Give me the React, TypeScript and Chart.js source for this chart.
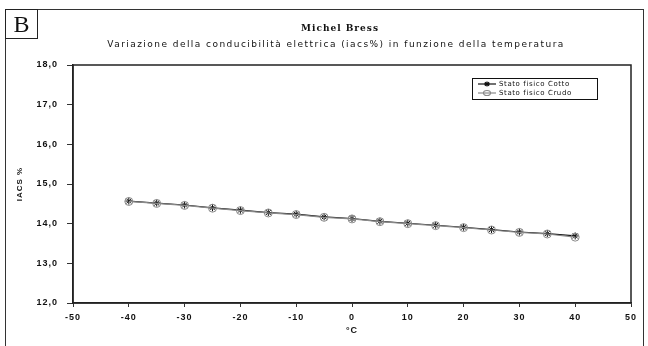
import React, { useEffect, useRef } from 'react';
import { Chart, registerables } from 'chart.js';

Chart.register(...registerables);

const temperatures = [-40, -35, -30, -25, -20, -15, -10, -5, 0, 5, 10, 15, 20, 25, 30, 35, 40];
const cottoValues = [14.57, 14.52, 14.47, 14.4, 14.34, 14.28, 14.24, 14.17, 14.13, 14.06, 14.01, 13.96, 13.91, 13.85, 13.79, 13.75, 13.69];
const crudoValues = [14.56, 14.51, 14.46, 14.39, 14.33, 14.27, 14.23, 14.16, 14.12, 14.05, 14.0, 13.95, 13.9, 13.84, 13.78, 13.74, 13.66];
const seriesNames = ['Stato fisico Cotto', 'Stato fisico Crudo'];
const titleLines = ['Michel Bress', 'Variazione della conducibilità elettrica (iacs%) in funzione della temperatura'];
const xAxisTitle = '°C';
const yAxisTitle = 'IACS %';
const panelLabel = 'B';

const COTTO_COLOR = '#111111';
const CRUDO_COLOR = '#8a8a8a';

function drawStar(ctx: CanvasRenderingContext2D, x: number, y: number, r: number) {
  ctx.beginPath();
  ctx.moveTo(x - r, y);
  ctx.lineTo(x + r, y);
  ctx.moveTo(x, y - r * 0.8);
  ctx.lineTo(x, y + r * 0.8);
  ctx.moveTo(x - r * 0.7, y - r * 0.6);
  ctx.lineTo(x + r * 0.7, y + r * 0.6);
  ctx.moveTo(x + r * 0.7, y - r * 0.6);
  ctx.lineTo(x - r * 0.7, y + r * 0.6);
  ctx.stroke();
}

const spacingPlugin = {
  id: 'spacing',
  beforeDraw(chart: any) {
    (chart.ctx as any).letterSpacing = '1px';
  },
  beforeDatasetsDraw(chart: any) {
    (chart.ctx as any).letterSpacing = '0px';
  },
};

const decorPlugin = {
  id: 'decor',
  afterDraw(chart: any) {
    const ctx: CanvasRenderingContext2D = chart.ctx;
    const a = chart.chartArea;
    ctx.save();
    // frame around plot area
    ctx.strokeStyle = '#222';
    ctx.lineWidth = 1.5;
    ctx.strokeRect(a.left, a.top, a.right - a.left, a.bottom - a.top);

    // titles
    ctx.fillStyle = '#111';
    ctx.textAlign = 'center';
    ctx.textBaseline = 'middle';
    (ctx as any).letterSpacing = '1px';
    ctx.font = 'bold 9px "DejaVu Serif"';
    ctx.fillText(titleLines[0], 340, 29);
    ctx.font = '9px "DejaVu Sans"';
    (ctx as any).letterSpacing = '1.45px';
    ctx.fillText(titleLines[1], 336, 45);

    // legend
    const lx = 472, ly = 78, lw = 125, lh = 21;
    ctx.strokeStyle = '#111';
    ctx.lineWidth = 1;
    ctx.strokeRect(lx + 0.5, ly + 0.5, lw, lh);
    ctx.font = '7px "DejaVu Sans"';
    (ctx as any).letterSpacing = '0.6px';
    ctx.textAlign = 'left';
    const rows = [ly + 6, ly + 15];
    // row 1
    ctx.strokeStyle = COTTO_COLOR;
    ctx.lineWidth = 1.2;
    ctx.beginPath();
    ctx.moveTo(lx + 6, rows[0]);
    ctx.lineTo(lx + 24, rows[0]);
    ctx.stroke();
    drawStar(ctx, lx + 15, rows[0], 3);
    ctx.fillStyle = '#111';
    ctx.fillText(seriesNames[0], lx + 27, rows[0]);
    // row 2
    ctx.strokeStyle = CRUDO_COLOR;
    ctx.beginPath();
    ctx.moveTo(lx + 6, rows[1]);
    ctx.lineTo(lx + 24, rows[1]);
    ctx.stroke();
    ctx.beginPath();
    ctx.ellipse(lx + 15, rows[1], 3.5, 2.5, 0, 0, Math.PI * 2);
    ctx.stroke();
    ctx.fillText(seriesNames[1], lx + 27, rows[1]);
    ctx.restore();
  },
};

export default function App() {
  const canvasRef = useRef<HTMLCanvasElement | null>(null);

  useEffect(() => {
    const canvas = canvasRef.current;
    if (!canvas) return;
    const chart = new Chart(canvas, {
      type: 'line',
      data: {
        datasets: [
          {
            label: seriesNames[1],
            data: temperatures.map((t, i) => ({ x: t, y: crudoValues[i] })),
            borderColor: CRUDO_COLOR,
            backgroundColor: 'rgba(255,255,255,0)',
            borderWidth: 1.2,
            pointStyle: 'circle',
            pointRadius: 4,
            pointBorderColor: CRUDO_COLOR,
            pointBorderWidth: 1,
          },
          {
            label: seriesNames[0],
            data: temperatures.map((t, i) => ({ x: t, y: cottoValues[i] })),
            borderColor: COTTO_COLOR,
            backgroundColor: COTTO_COLOR,
            borderWidth: 1.2,
            pointStyle: 'star',
            pointRadius: 3.5,
            pointBorderColor: COTTO_COLOR,
            pointBorderWidth: 1,
          },
        ],
      },
      options: {
        responsive: false,
        animation: false,
        devicePixelRatio: 1,
        layout: { padding: { left: 0, top: 65, right: 17, bottom: 0 } },
        plugins: {
          legend: { display: false },
          title: { display: false },
          tooltip: { enabled: false },
        },
        scales: {
          x: {
            type: 'linear',
            min: -50,
            max: 50,
            ticks: {
              stepSize: 10,
              color: '#111',
              font: { family: '"Liberation Sans"', size: 9, weight: 'bold' },
              padding: 5,
              maxRotation: 0,
            },
            grid: { drawOnChartArea: false, tickLength: 4, color: '#333' },
            border: { color: '#222', width: 1.5 },
            title: {
              display: true,
              text: xAxisTitle,
              color: '#111',
              font: { family: '"Liberation Sans"', size: 9, weight: 'bold' },
              padding: { top: 0, bottom: 10 },
            },
            afterFit: (s: any) => { s.height = 43; },
          },
          y: {
            type: 'linear',
            min: 12,
            max: 18,
            ticks: {
              stepSize: 1,
              color: '#111',
              font: { family: '"Liberation Sans"', size: 9, weight: 'bold' },
              padding: 9,
              callback: (v: any) => Number(v).toFixed(1).replace('.', ','),
            },
            grid: { drawOnChartArea: false, tickLength: 6, color: '#333' },
            border: { color: '#222', width: 1.5 },
            title: {
              display: true,
              text: yAxisTitle,
              color: '#111',
              font: { family: '"Liberation Sans"', size: 8, weight: 'bold' },
              padding: { top: 15, bottom: 0 },
            },
            afterFit: (s: any) => { s.width = 73; },
          },
        },
      },
      plugins: [spacingPlugin, decorPlugin],
    } as any);
    return () => chart.destroy();
  }, []);

  return (
    <div style={{ position: 'fixed', left: 0, top: 0, width: 648, height: 346, background: '#fff', overflow: 'hidden' }}>
      <canvas ref={canvasRef} width={648} height={346} style={{ position: 'absolute', left: 0, top: 0, width: 648, height: 346 }} />
      <div style={{ position: 'absolute', left: 5, top: 9, width: 639, height: 346, border: '1.5px solid #333', boxSizing: 'border-box', pointerEvents: 'none' }} />
      <div style={{ position: 'absolute', left: 5, top: 9, width: 33, height: 30, border: '1.5px solid #222', boxSizing: 'border-box', fontFamily: '"Liberation Serif", serif', fontSize: 24, lineHeight: '28px', textAlign: 'center', color: '#111' }}>{panelLabel}</div>
    </div>
  );
}
